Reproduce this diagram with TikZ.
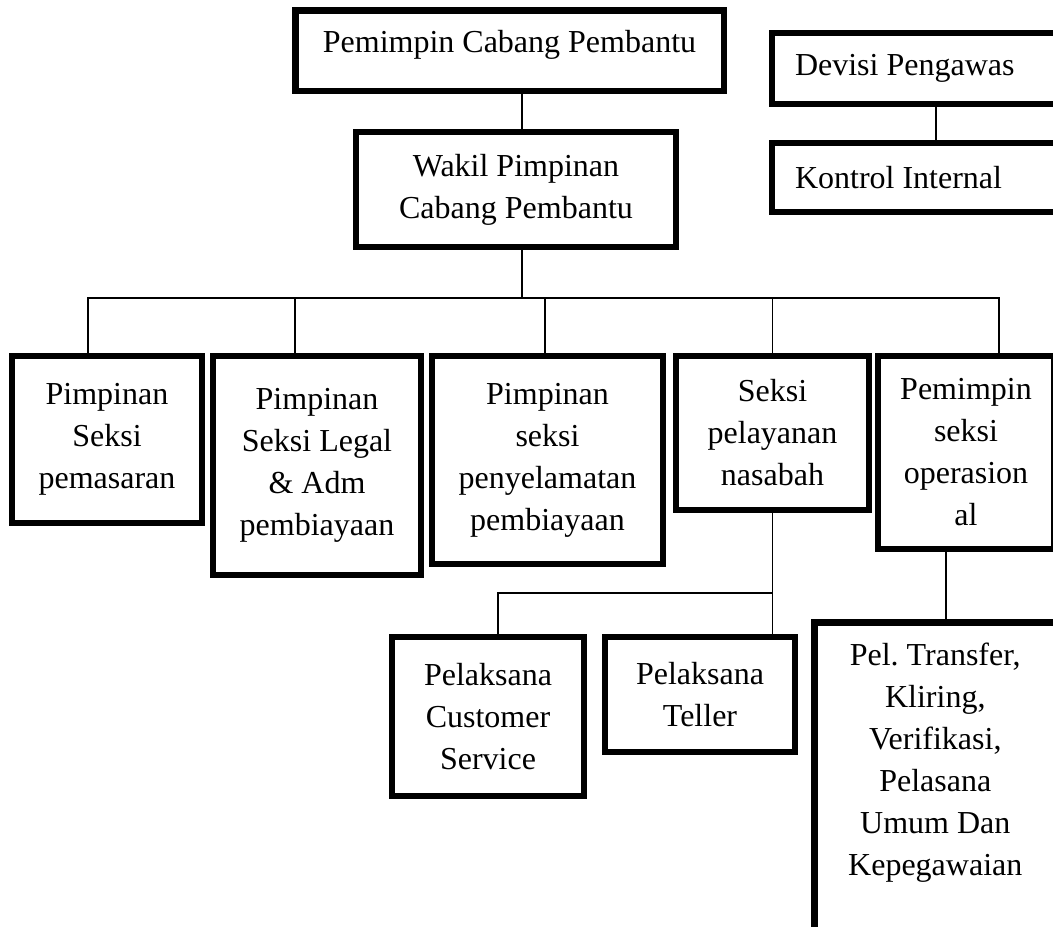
\documentclass[tikz,border=0pt]{standalone}
\usepackage{fontspec}
\setmainfont{Liberation Serif}

\begin{document}
\begin{tikzpicture}[
	x=0.75pt, y=-0.75pt,
	font=\fontsize{24}{31.5}\selectfont,
	box/.style={
		draw,
		line width=4.9pt,
		align=center
	},
	sidebox/.style={
		box,
		text width=211.5pt,
		align=flush left,
		inner xsep=17.25pt
	},
	link/.style={line width=1.3pt}
	]
	\useasboundingbox (0,0) rectangle (1053,926);

	\node[box, minimum width=321.4pt, minimum height=60.4pt, text depth=13pt] (pcp) at (509.5,50.5) {Pemimpin Cabang Pembantu};
	\node[box, minimum width=240pt, minimum height=86.25pt] (wakil) at (516,189.5) {Wakil Pimpinan\\Cabang Pembantu};
	\node[sidebox, minimum height=53.25pt] (devisi) at (936,68.5) {Devisi Pengawas};
	\node[sidebox, minimum height=51.75pt] (kontrol) at (936,177.5) {Kontrol Internal};

	\node[box, minimum width=142.5pt, minimum height=125.25pt] (pemasaran) at (107,439.5) {Pimpinan\\Seksi\\pemasaran};
	\node[box, minimum width=156pt, minimum height=164.25pt] (legal) at (317,465.5) {Pimpinan\\Seksi Legal\\\& Adm\\pembiayaan};
	\node[box, minimum width=173.25pt, minimum height=156pt] (penyelamatan) at (547.5,460) {Pimpinan\\seksi\\penyelamatan\\pembiayaan};
	\node[box, minimum width=144.75pt, minimum height=115.5pt] (nasabah) at (772.5,433) {Seksi\\pelayanan\\nasabah};
	\node[box, minimum width=132pt, minimum height=144.75pt] (operasional) at (966,452.5) {Pemimpin\\seksi\\operasion\\al};

	\node[box, minimum width=144pt, minimum height=119.25pt] (cs) at (488,716.5) {Pelaksana\\Customer\\Service};
	\node[box, minimum width=142.5pt, minimum height=86.25pt] (teller) at (700,694.5) {Pelaksana\\Teller};
	\node[box, anchor=north west, minimum width=181.5pt, inner ysep=15.75pt] (pelops) at (811,619) {Pel.\ Transfer,\\Kliring,\\Verifikasi,\\Pelasana\\Umum Dan\\Kepegawaian\rule[-30pt]{0pt}{0pt}};

	\coordinate (hub) at (522,298);
	\coordinate (subhub) at (772.5,593);

	\draw[link] (pcp.south -| hub) -- (wakil.north -| hub);
	\draw[link] (wakil.south -| hub) -- (hub);
	\draw[link] ([xshift=-14.25pt]pemasaran.north) |- (hub) -| ([xshift=24.75pt]operasional.north);
	\foreach \n/\s in {legal/-16.5pt, penyelamatan/-1.9pt, nasabah/0pt}
		\draw[link] ([xshift=\s]\n.north) -- ([xshift=\s]\n.north |- hub);
	\draw[link] (devisi) -- (kontrol);

	\draw[link] (nasabah.south) -- (nasabah.south |- teller.north);
	\draw[link] ([xshift=7.5pt]cs.north) |- (subhub);
	\draw[link] ([xshift=-15pt]operasional.south) -- ([xshift=-15pt]operasional.south |- pelops.north);
\end{tikzpicture}
\end{document}
